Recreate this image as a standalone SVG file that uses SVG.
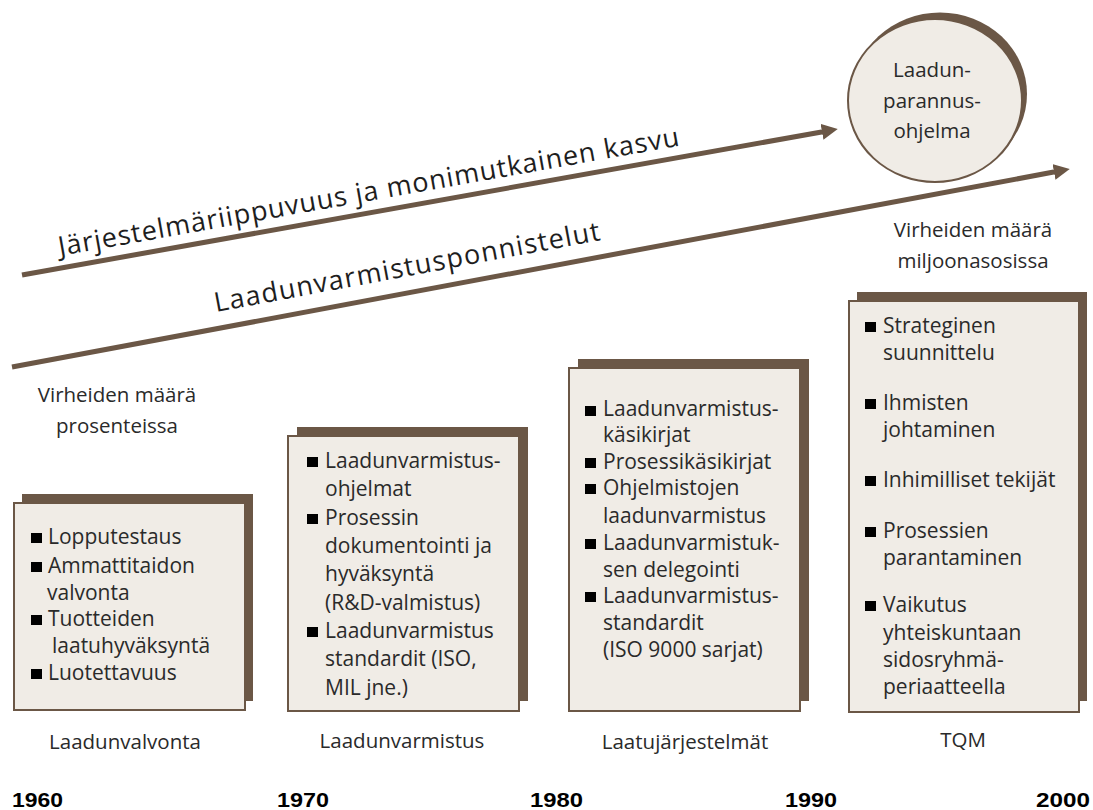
<svg xmlns="http://www.w3.org/2000/svg" width="1093" height="810" viewBox="0 0 1093 810">
  <style>
    .shadow { fill: #6B5746; }
    .card { fill: #F0ECE6; stroke: #6B5746; stroke-width: 2; }
    .t { font-family: "Open Sans", "Liberation Sans", sans-serif; font-size: 21px; fill: #2a2a2a; }
    .lbl { font-family: "Open Sans", "Liberation Sans", sans-serif; font-size: 20.5px; fill: #2a2a2a; text-anchor: middle; }
    .trend { font-family: "Open Sans", "Liberation Sans", sans-serif; font-size: 27px; fill: #1e1e1e; }
    .year { font-family: "Liberation Sans", Arial, sans-serif; font-size: 21px; font-weight: bold; fill: #000; }
    .bul { fill: #000; }
    .arrow { stroke: #6B5746; stroke-width: 5; fill: none; marker-end: url(#head); }
  </style>
  <defs>
    <marker id="head" viewBox="0 0 16 16" markerWidth="16" markerHeight="16" refX="1" refY="8" markerUnits="userSpaceOnUse" orient="auto">
      <path d="M0,0 L16,8 L0,16 z" fill="#6B5746"/>
    </marker>
  </defs>

  <rect width="1093" height="810" fill="#ffffff"/>

  <!-- trend arrows -->
  <g id="connectors">
    <line class="arrow" x1="22" y1="275" x2="823" y2="131.7"/>
    <line class="arrow" x1="12" y1="367" x2="1055" y2="171.8"/>
  </g>

  <text class="trend" transform="translate(60,256) rotate(-10.1)" textLength="630" lengthAdjust="spacing">Järjestelmäriippuvuus ja monimutkainen kasvu</text>
  <text class="trend" transform="translate(216,312) rotate(-10.6)" textLength="392" lengthAdjust="spacing">Laadunvarmistusponnistelut</text>

  <!-- improvement programme bubble -->
  <g id="ohjelma">
    <ellipse class="shadow" cx="940" cy="94" rx="87" ry="81.5"/>
    <ellipse class="card" cx="935" cy="100.5" rx="87" ry="81.5"/>
    <text class="lbl" font-size="22" x="932" y="77">Laadun-</text>
    <text class="lbl" font-size="22" x="932" y="108">parannus-</text>
    <text class="lbl" font-size="22" x="932" y="138">ohjelma</text>
  </g>

  <g id="virheet-prosentti">
    <text class="lbl" x="117" y="402">Virheiden määrä</text>
    <text class="lbl" x="117" y="433">prosenteissa</text>
  </g>
  <g id="virheet-miljoona">
    <text class="lbl" x="973" y="237">Virheiden määrä</text>
    <text class="lbl" x="973" y="268">miljoonasosissa</text>
  </g>

  <!-- 1960: quality control -->
  <g id="laadunvalvonta">
    <rect class="shadow" x="22" y="494" width="231" height="207"/>
    <rect class="card" x="14" y="503" width="231" height="207"/>
    <rect class="bul" x="31" y="533" width="11" height="10"/>
    <rect class="bul" x="31" y="562" width="11" height="10"/>
    <rect class="bul" x="31" y="615" width="11" height="10"/>
    <rect class="bul" x="31" y="669" width="11" height="10"/>
    <text class="t" x="48" y="544">Lopputestaus</text>
    <text class="t" x="48" y="573">Ammattitaidon</text>
    <text class="t" x="47" y="600">valvonta</text>
    <text class="t" x="48" y="626">Tuotteiden</text>
    <text class="t" x="52" y="653">laatuhyväksyntä</text>
    <text class="t" x="48" y="680">Luotettavuus</text>
    <text class="lbl" x="125" y="749">Laadunvalvonta</text>
  </g>

  <!-- 1970: quality assurance -->
  <g id="laadunvarmistus">
    <rect class="shadow" x="297" y="427" width="231" height="274"/>
    <rect class="card" x="288" y="436" width="231" height="275"/>
    <rect class="bul" x="307" y="457" width="11" height="10"/>
    <rect class="bul" x="307" y="514" width="11" height="10"/>
    <rect class="bul" x="307" y="627" width="11" height="10"/>
    <text class="t" x="325" y="468">Laadunvarmistus-</text>
    <text class="t" x="325" y="496">ohjelmat</text>
    <text class="t" x="325" y="525">Prosessin</text>
    <text class="t" x="325" y="553">dokumentointi ja</text>
    <text class="t" x="325" y="581">hyväksyntä</text>
    <text class="t" x="325" y="610">(R&amp;D-valmistus)</text>
    <text class="t" x="325" y="638">Laadunvarmistus</text>
    <text class="t" x="325" y="666">standardit (ISO,</text>
    <text class="t" x="325" y="695">MIL jne.)</text>
    <text class="lbl" x="402" y="748">Laadunvarmistus</text>
  </g>

  <!-- 1980: quality systems -->
  <g id="laatujarjestelmat">
    <rect class="shadow" x="578" y="359" width="231" height="342"/>
    <rect class="card" x="569" y="368" width="231" height="343"/>
    <rect class="bul" x="585" y="406" width="11" height="10"/>
    <rect class="bul" x="585" y="458" width="11" height="10"/>
    <rect class="bul" x="585" y="484" width="11" height="10"/>
    <rect class="bul" x="585" y="539" width="11" height="10"/>
    <rect class="bul" x="585" y="592" width="11" height="10"/>
    <text class="t" x="603" y="416">Laadunvarmistus-</text>
    <text class="t" x="603" y="442">käsikirjat</text>
    <text class="t" x="603" y="469">Prosessikäsikirjat</text>
    <text class="t" x="603" y="495">Ohjelmistojen</text>
    <text class="t" x="603" y="523">laadunvarmistus</text>
    <text class="t" x="603" y="550">Laadunvarmistuk-</text>
    <text class="t" x="603" y="577">sen delegointi</text>
    <text class="t" x="603" y="603">Laadunvarmistus-</text>
    <text class="t" x="603" y="630">standardit</text>
    <text class="t" x="603" y="657">(ISO 9000 sarjat)</text>
    <text class="lbl" x="685" y="749">Laatujärjestelmät</text>
  </g>

  <!-- 1990: TQM -->
  <g id="tqm">
    <rect class="shadow" x="857" y="292" width="230" height="409"/>
    <rect class="card" x="849" y="301" width="230" height="411"/>
    <rect class="bul" x="865" y="322" width="11" height="10"/>
    <rect class="bul" x="865" y="399" width="11" height="10"/>
    <rect class="bul" x="865" y="476" width="11" height="10"/>
    <rect class="bul" x="865" y="527" width="11" height="10"/>
    <rect class="bul" x="865" y="601" width="11" height="10"/>
    <text class="t" x="883" y="333">Strateginen</text>
    <text class="t" x="883" y="360">suunnittelu</text>
    <text class="t" x="883" y="410">Ihmisten</text>
    <text class="t" x="883" y="437">johtaminen</text>
    <text class="t" x="883" y="487">Inhimilliset tekijät</text>
    <text class="t" x="883" y="538">Prosessien</text>
    <text class="t" x="883" y="565">parantaminen</text>
    <text class="t" x="883" y="612">Vaikutus</text>
    <text class="t" x="883" y="640">yhteiskuntaan</text>
    <text class="t" x="883" y="667">sidosryhmä-</text>
    <text class="t" x="883" y="694">periaatteella</text>
    <text class="lbl" x="963" y="747">TQM</text>
  </g>

  <!-- timeline years -->
  <g id="vuodet">
    <text class="year" x="12" y="807" textLength="51" lengthAdjust="spacingAndGlyphs">1960</text>
    <text class="year" x="277" y="807" textLength="52" lengthAdjust="spacingAndGlyphs">1970</text>
    <text class="year" x="530" y="807" textLength="53" lengthAdjust="spacingAndGlyphs">1980</text>
    <text class="year" x="785" y="807" textLength="52" lengthAdjust="spacingAndGlyphs">1990</text>
    <text class="year" x="1036" y="807" textLength="54" lengthAdjust="spacingAndGlyphs">2000</text>
  </g>
</svg>
